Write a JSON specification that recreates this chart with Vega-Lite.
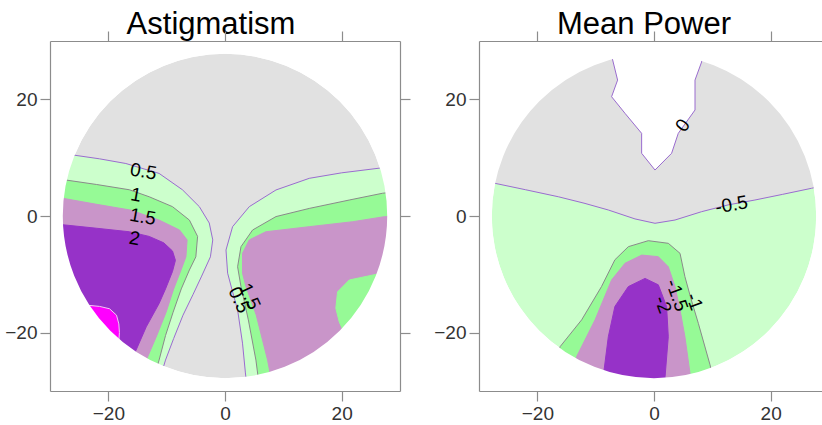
{
  "$schema": "https://vega.github.io/schema/vega-lite/v6.json",
  "padding": {"left": 4, "top": 9, "right": 0, "bottom": 0},
  "spacing": 22,
  "datasets": {
    "ctr": [{"x": 0, "y": 0}],
    "astig": [
      {"g":"a05","p":"L","i":0,"x":-29.5,"y":10.8},{"g":"a05","p":"L","i":1,"x":-26,"y":10.45},{"g":"a05","p":"L","i":2,"x":-21.5,"y":9.8},{"g":"a05","p":"L","i":3,"x":-17,"y":9},{"g":"a05","p":"L","i":4,"x":-11.3,"y":7.3},{"g":"a05","p":"L","i":5,"x":-7.3,"y":4.5},{"g":"a05","p":"L","i":6,"x":-4.4,"y":1.6},{"g":"a05","p":"L","i":7,"x":-2.7,"y":-1.2},{"g":"a05","p":"L","i":8,"x":-2.1,"y":-4.1},{"g":"a05","p":"L","i":9,"x":-2.5,"y":-7},{"g":"a05","p":"L","i":10,"x":-4,"y":-10.3},{"g":"a05","p":"L","i":11,"x":-5.5,"y":-13.5},{"g":"a05","p":"L","i":12,"x":-7.2,"y":-17},{"g":"a05","p":"L","i":13,"x":-8.8,"y":-21},{"g":"a05","p":"L","i":14,"x":-10.2,"y":-24.7},{"g":"a05","p":"L","i":15,"x":-11.2,"y":-28},{"g":"a05","p":"L","i":16,"x":-12,"y":-29.5},{"g":"a05","p":"L","i":17,"x":-29.5,"y":-29.5},
      {"g":"a05","p":"R","i":0,"x":29.5,"y":9},{"g":"a05","p":"R","i":1,"x":26.45,"y":8.2},{"g":"a05","p":"R","i":2,"x":20,"y":7.4},{"g":"a05","p":"R","i":3,"x":14.45,"y":6.46},{"g":"a05","p":"R","i":4,"x":8.74,"y":4.46},{"g":"a05","p":"R","i":5,"x":4.16,"y":1.6},{"g":"a05","p":"R","i":6,"x":1.3,"y":-1.83},{"g":"a05","p":"R","i":7,"x":0.17,"y":-5.83},{"g":"a05","p":"R","i":8,"x":0.45,"y":-9.8},{"g":"a05","p":"R","i":9,"x":1.3,"y":-13},{"g":"a05","p":"R","i":10,"x":2.16,"y":-16.1},{"g":"a05","p":"R","i":11,"x":3,"y":-21.8},{"g":"a05","p":"R","i":12,"x":3.5,"y":-26.9},{"g":"a05","p":"R","i":13,"x":3.8,"y":-29.5},{"g":"a05","p":"R","i":14,"x":29.5,"y":-29.5},
      {"g":"a1","p":"L","i":0,"x":-29.5,"y":6.4},{"g":"a1","p":"L","i":1,"x":-27.5,"y":6.2},{"g":"a1","p":"L","i":2,"x":-22,"y":5.4},{"g":"a1","p":"L","i":3,"x":-16.4,"y":4.5},{"g":"a1","p":"L","i":4,"x":-13,"y":3.3},{"g":"a1","p":"L","i":5,"x":-9,"y":1.6},{"g":"a1","p":"L","i":6,"x":-6.1,"y":-0.7},{"g":"a1","p":"L","i":7,"x":-4.7,"y":-3.5},{"g":"a1","p":"L","i":8,"x":-5,"y":-7},{"g":"a1","p":"L","i":9,"x":-6.1,"y":-9.25},{"g":"a1","p":"L","i":10,"x":-7.5,"y":-12.5},{"g":"a1","p":"L","i":11,"x":-8.9,"y":-16.5},{"g":"a1","p":"L","i":12,"x":-10.2,"y":-20.5},{"g":"a1","p":"L","i":13,"x":-11.3,"y":-24.7},{"g":"a1","p":"L","i":14,"x":-12.3,"y":-28},{"g":"a1","p":"L","i":15,"x":-13,"y":-29.5},{"g":"a1","p":"L","i":16,"x":-29.5,"y":-29.5},
      {"g":"a1","p":"R","i":0,"x":29.5,"y":4.2},{"g":"a1","p":"R","i":1,"x":27,"y":3.9},{"g":"a1","p":"R","i":2,"x":21.3,"y":2.74},{"g":"a1","p":"R","i":3,"x":14.45,"y":1.3},{"g":"a1","p":"R","i":4,"x":8.74,"y":-0.1},{"g":"a1","p":"R","i":5,"x":4.73,"y":-2.4},{"g":"a1","p":"R","i":6,"x":2.74,"y":-5.26},{"g":"a1","p":"R","i":7,"x":2.16,"y":-8.7},{"g":"a1","p":"R","i":8,"x":2.74,"y":-12.1},{"g":"a1","p":"R","i":9,"x":4,"y":-17.8},{"g":"a1","p":"R","i":10,"x":5.3,"y":-24.7},{"g":"a1","p":"R","i":11,"x":5.7,"y":-27.8},{"g":"a1","p":"R","i":12,"x":6,"y":-29.5},{"g":"a1","p":"R","i":13,"x":29.5,"y":-29.5},
      {"g":"a15","p":"L","i":0,"x":-29.5,"y":3.1},{"g":"a15","p":"L","i":1,"x":-27.6,"y":3},{"g":"a15","p":"L","i":2,"x":-22,"y":2},{"g":"a15","p":"L","i":3,"x":-16.1,"y":1},{"g":"a15","p":"L","i":4,"x":-11.3,"y":-0.7},{"g":"a15","p":"L","i":5,"x":-7.8,"y":-2.4},{"g":"a15","p":"L","i":6,"x":-6.5,"y":-4.1},{"g":"a15","p":"L","i":7,"x":-6.7,"y":-7},{"g":"a15","p":"L","i":8,"x":-7.54,"y":-9.25},{"g":"a15","p":"L","i":9,"x":-8.8,"y":-12.5},{"g":"a15","p":"L","i":10,"x":-10.1,"y":-16.5},{"g":"a15","p":"L","i":11,"x":-11.7,"y":-20.5},{"g":"a15","p":"L","i":12,"x":-13.5,"y":-24.7},{"g":"a15","p":"L","i":13,"x":-14.5,"y":-28},{"g":"a15","p":"L","i":14,"x":-15,"y":-29.5},{"g":"a15","p":"L","i":15,"x":-29.5,"y":-29.5},
      {"g":"a15","p":"R","i":0,"x":29.5,"y":-0.1},{"g":"a15","p":"R","i":1,"x":27.3,"y":-0.12},{"g":"a15","p":"R","i":2,"x":21.9,"y":-0.98},{"g":"a15","p":"R","i":3,"x":14.45,"y":-1.83},{"g":"a15","p":"R","i":4,"x":7,"y":-2.7},{"g":"a15","p":"R","i":5,"x":4.16,"y":-4.1},{"g":"a15","p":"R","i":6,"x":3,"y":-6.4},{"g":"a15","p":"R","i":7,"x":3,"y":-9.8},{"g":"a15","p":"R","i":8,"x":3.6,"y":-12.1},{"g":"a15","p":"R","i":9,"x":5.36,"y":-17},{"g":"a15","p":"R","i":10,"x":7.3,"y":-24.7},{"g":"a15","p":"R","i":11,"x":7.9,"y":-27.8},{"g":"a15","p":"R","i":12,"x":8.5,"y":-29.5},{"g":"a15","p":"R","i":13,"x":29.5,"y":-29.5},
      {"g":"aG","p":"R","i":0,"x":29.5,"y":-9.8},{"g":"aG","p":"R","i":1,"x":27,"y":-9.77},{"g":"aG","p":"R","i":2,"x":21.3,"y":-10.97},{"g":"aG","p":"R","i":3,"x":19.3,"y":-13},{"g":"aG","p":"R","i":4,"x":19,"y":-15.8},{"g":"aG","p":"R","i":5,"x":19.6,"y":-18.2},{"g":"aG","p":"R","i":6,"x":20.4,"y":-19.9},{"g":"aG","p":"R","i":7,"x":24,"y":-24},{"g":"aG","p":"R","i":8,"x":29.5,"y":-29.5},
      {"g":"a2","p":"L","i":0,"x":-29.5,"y":-1.5},{"g":"a2","p":"L","i":1,"x":-27.8,"y":-1.5},{"g":"a2","p":"L","i":2,"x":-22,"y":-2.1},{"g":"a2","p":"L","i":3,"x":-16.4,"y":-2.7},{"g":"a2","p":"L","i":4,"x":-13,"y":-3.5},{"g":"a2","p":"L","i":5,"x":-10.5,"y":-4.6},{"g":"a2","p":"L","i":6,"x":-9,"y":-6},{"g":"a2","p":"L","i":7,"x":-8.5,"y":-7.6},{"g":"a2","p":"L","i":8,"x":-9,"y":-9.5},{"g":"a2","p":"L","i":9,"x":-10.2,"y":-12.5},{"g":"a2","p":"L","i":10,"x":-11.3,"y":-15},{"g":"a2","p":"L","i":11,"x":-13.5,"y":-19},{"g":"a2","p":"L","i":12,"x":-15.25,"y":-23},{"g":"a2","p":"L","i":13,"x":-17,"y":-26},{"g":"a2","p":"L","i":14,"x":-18,"y":-29.5},{"g":"a2","p":"L","i":15,"x":-29.5,"y":-29.5},
      {"g":"aM","p":"L","i":0,"x":-29.5,"y":-15.2},{"g":"aM","p":"L","i":1,"x":-25,"y":-15.2},{"g":"aM","p":"L","i":2,"x":-23.5,"y":-15.3},{"g":"aM","p":"L","i":3,"x":-21.5,"y":-15.5},{"g":"aM","p":"L","i":4,"x":-19.8,"y":-15.9},{"g":"aM","p":"L","i":5,"x":-18.6,"y":-17},{"g":"aM","p":"L","i":6,"x":-18.2,"y":-18.5},{"g":"aM","p":"L","i":7,"x":-18.1,"y":-20},{"g":"aM","p":"L","i":8,"x":-18.2,"y":-21.5},{"g":"aM","p":"L","i":9,"x":-18.5,"y":-29.5},{"g":"aM","p":"L","i":10,"x":-29.5,"y":-29.5}
    ],
    "astigLab": [
      {"t":"0.5","x":-14,"y":7.6,"k":"L"},{"t":"1","x":-15.25,"y":3.6,"k":"L"},{"t":"1.5","x":-14.1,"y":-0.17,"k":"L"},{"t":"2","x":-15.5,"y":-3.86,"k":"L"},
      {"t":"1.5","x":4.2,"y":-13.8,"k":"R"},{"t":"0.5","x":2.4,"y":-14.4,"k":"R"}
    ],
    "power": [
      {"g":"pG","p":"A","i":0,"x":-29.5,"y":5.8},{"g":"pG","p":"A","i":1,"x":-27.25,"y":5.6},{"g":"pG","p":"A","i":2,"x":-22,"y":4.5},{"g":"pG","p":"A","i":3,"x":-16.4,"y":3.3},{"g":"pG","p":"A","i":4,"x":-12,"y":2.2},{"g":"pG","p":"A","i":5,"x":-7.83,"y":1.03},{"g":"pG","p":"A","i":6,"x":-3.26,"y":-0.5},{"g":"pG","p":"A","i":7,"x":0.17,"y":-1.25},{"g":"pG","p":"A","i":8,"x":3.6,"y":-0.69},{"g":"pG","p":"A","i":9,"x":8.16,"y":0.74},{"g":"pG","p":"A","i":10,"x":12.7,"y":1.9},{"g":"pG","p":"A","i":11,"x":17.3,"y":2.74},{"g":"pG","p":"A","i":12,"x":22,"y":3.7},{"g":"pG","p":"A","i":13,"x":27,"y":4.75},{"g":"pG","p":"A","i":14,"x":29.5,"y":5.3},{"g":"pG","p":"A","i":15,"x":29.5,"y":29.5},{"g":"pG","p":"A","i":16,"x":-29.5,"y":29.5},
      {"g":"pW","p":"A","i":0,"x":-7.15,"y":29.5},{"g":"pW","p":"A","i":1,"x":-7.15,"y":27},{"g":"pW","p":"A","i":2,"x":-6.24,"y":23.3},{"g":"pW","p":"A","i":3,"x":-7.27,"y":20.45},{"g":"pW","p":"A","i":4,"x":-4.97,"y":17.6},{"g":"pW","p":"A","i":5,"x":-2.12,"y":14.17},{"g":"pW","p":"A","i":6,"x":-2.12,"y":10.75},{"g":"pW","p":"A","i":7,"x":0.17,"y":7.88},{"g":"pW","p":"A","i":8,"x":3.02,"y":10.75},{"g":"pW","p":"A","i":9,"x":4.16,"y":14.17},{"g":"pW","p":"A","i":10,"x":7.03,"y":18.17},{"g":"pW","p":"A","i":11,"x":7.03,"y":23.3},{"g":"pW","p":"A","i":12,"x":8.16,"y":26.4},{"g":"pW","p":"A","i":13,"x":8.5,"y":29.5},
      {"g":"p1","p":"A","i":0,"x":-18,"y":-29.5},{"g":"p1","p":"A","i":1,"x":-16.1,"y":-22.4},{"g":"p1","p":"A","i":2,"x":-12.4,"y":-17.8},{"g":"p1","p":"A","i":3,"x":-9,"y":-12.1},{"g":"p1","p":"A","i":4,"x":-6.7,"y":-7.5},{"g":"p1","p":"A","i":5,"x":-4.4,"y":-5.26},{"g":"p1","p":"A","i":6,"x":-0.98,"y":-4.23},{"g":"p1","p":"A","i":7,"x":2.45,"y":-4.68},{"g":"p1","p":"A","i":8,"x":4.46,"y":-6.4},{"g":"p1","p":"A","i":9,"x":5.3,"y":-10.4},{"g":"p1","p":"A","i":10,"x":6.4,"y":-14.4},{"g":"p1","p":"A","i":11,"x":7.6,"y":-18.4},{"g":"p1","p":"A","i":12,"x":9.6,"y":-25.5},{"g":"p1","p":"A","i":13,"x":10.5,"y":-29.5},
      {"g":"p15","p":"A","i":0,"x":-15,"y":-29.5},{"g":"p15","p":"A","i":1,"x":-13.26,"y":-24.1},{"g":"p15","p":"A","i":2,"x":-10.1,"y":-17.8},{"g":"p15","p":"A","i":3,"x":-7.27,"y":-10.97},{"g":"p15","p":"A","i":4,"x":-4.97,"y":-8.1},{"g":"p15","p":"A","i":5,"x":-2.1,"y":-6.7},{"g":"p15","p":"A","i":6,"x":0.74,"y":-6.97},{"g":"p15","p":"A","i":7,"x":2.45,"y":-8.7},{"g":"p15","p":"A","i":8,"x":3.6,"y":-12.1},{"g":"p15","p":"A","i":9,"x":4.46,"y":-16.1},{"g":"p15","p":"A","i":10,"x":5.3,"y":-20.7},{"g":"p15","p":"A","i":11,"x":6.17,"y":-26.96},{"g":"p15","p":"A","i":12,"x":6.5,"y":-29.5},
      {"g":"p2","p":"A","i":0,"x":-9,"y":-29.5},{"g":"p2","p":"A","i":1,"x":-8.7,"y":-27.5},{"g":"p2","p":"A","i":2,"x":-7.83,"y":-20.7},{"g":"p2","p":"A","i":3,"x":-6.7,"y":-15.5},{"g":"p2","p":"A","i":4,"x":-4.4,"y":-12.1},{"g":"p2","p":"A","i":5,"x":-1.54,"y":-10.7},{"g":"p2","p":"A","i":6,"x":0.74,"y":-11.8},{"g":"p2","p":"A","i":7,"x":2.16,"y":-15.5},{"g":"p2","p":"A","i":8,"x":2.45,"y":-20.7},{"g":"p2","p":"A","i":9,"x":1.9,"y":-27.5},{"g":"p2","p":"A","i":10,"x":1.8,"y":-29.5}
    ],
    "powerLab": [
      {"t":"0","x":4.94,"y":15.5,"k":"a"},{"t":"-0.5","x":13.3,"y":1.9,"k":"b"},
      {"t":"-1","x":6.9,"y":-14.7,"k":"c"},{"t":"-1.5","x":3.9,"y":-13.6,"k":"c"},{"t":"-2","x":1.5,"y":-15.2,"k":"c"}
    ]
  },
  "hconcat": [
    {
      "title": {"text": "Astigmatism", "dx": -14},
      "width": 350, "height": 350,
      "encoding": {
        "x": {"field": "x", "type": "quantitative", "scale": {"domain": [-30, 30], "nice": false, "zero": false}, "axis": null},
        "y": {"field": "y", "type": "quantitative", "scale": {"domain": [-30, 30], "nice": false, "zero": false}, "axis": null}
      },
      "resolve": {"axis": {"x": "independent", "y": "independent"}},
      "layer": [
        {"data": {"name": "ctr"}, "mark": {"type": "point", "shape": "circle", "filled": true, "fill": "#e1e1e1", "stroke": null, "opacity": 1, "size": 105235, "clip": true},
         "encoding": {
           "x": {"field": "x", "type": "quantitative", "scale": {"domain": [-30, 30], "nice": false, "zero": false}, "axis": {"orient": "bottom", "values": [-20, 0, 20], "title": null, "zindex": 2}},
           "y": {"field": "y", "type": "quantitative", "scale": {"domain": [-30, 30], "nice": false, "zero": false}, "axis": {"orient": "left", "values": [-20, 0, 20], "title": null, "zindex": 2}}
         }},
        {"data": {"name": "astig"}, "transform": [{"filter": "datum.g === 'a05'"}], "mark": {"type": "line", "fill": "#ccffcc", "stroke": "#9a6ccf", "strokeWidth": 1, "clip": true},
         "encoding": {"order": {"field": "i", "type": "quantitative"}, "detail": {"field": "p", "type": "nominal"}}},
        {"data": {"name": "astig"}, "transform": [{"filter": "datum.g === 'a1'"}], "mark": {"type": "line", "fill": "#96fa96", "stroke": "#8a8a8a", "strokeWidth": 1, "clip": true},
         "encoding": {"order": {"field": "i", "type": "quantitative"}, "detail": {"field": "p", "type": "nominal"}}},
        {"data": {"name": "astig"}, "transform": [{"filter": "datum.g === 'a15'"}], "mark": {"type": "line", "fill": "#c995c9", "stroke": "#c995c9", "strokeWidth": 1, "clip": true},
         "encoding": {"order": {"field": "i", "type": "quantitative"}, "detail": {"field": "p", "type": "nominal"}}},
        {"data": {"name": "astig"}, "transform": [{"filter": "datum.g === 'aG'"}], "mark": {"type": "line", "fill": "#96fa96", "stroke": "#96fa96", "strokeWidth": 1, "clip": true},
         "encoding": {"order": {"field": "i", "type": "quantitative"}, "detail": {"field": "p", "type": "nominal"}}},
        {"data": {"name": "astig"}, "transform": [{"filter": "datum.g === 'a2'"}], "mark": {"type": "line", "fill": "#9632c8", "stroke": "#9632c8", "strokeWidth": 1, "clip": true},
         "encoding": {"order": {"field": "i", "type": "quantitative"}, "detail": {"field": "p", "type": "nominal"}}},
        {"data": {"name": "astig"}, "transform": [{"filter": "datum.g === 'aM'"}], "mark": {"type": "line", "fill": "#ff00ff", "stroke": "#f5c8f5", "strokeWidth": 1, "clip": true},
         "encoding": {"order": {"field": "i", "type": "quantitative"}, "detail": {"field": "p", "type": "nominal"}}},
        {"data": {"name": "ctr"}, "mark": {"type": "point", "shape": "circle", "filled": false, "stroke": "#ffffff", "strokeWidth": 200, "opacity": 1, "size": 274995, "clip": true},
         "encoding": {
           "x": {"field": "x", "type": "quantitative", "scale": {"domain": [-30, 30], "nice": false, "zero": false}, "axis": {"orient": "top", "values": [-20, 0, 20], "labels": false, "title": null, "zindex": 2}},
           "y": {"field": "y", "type": "quantitative", "scale": {"domain": [-30, 30], "nice": false, "zero": false}, "axis": {"orient": "right", "values": [-20, 0, 20], "labels": false, "title": null, "zindex": 2}}
         }},
        {"data": {"name": "astigLab"}, "transform": [{"filter": "datum.k === 'L'"}], "mark": {"type": "text", "fontSize": 19, "angle": 10, "color": "#000000"},
         "encoding": {"text": {"field": "t", "type": "nominal"}}},
        {"data": {"name": "astigLab"}, "transform": [{"filter": "datum.k === 'R'"}], "mark": {"type": "text", "fontSize": 19, "angle": 65, "color": "#000000"},
         "encoding": {"text": {"field": "t", "type": "nominal"}}}
      ]
    },
    {
      "title": {"text": "Mean Power", "dx": -10},
      "width": 350, "height": 350,
      "encoding": {
        "x": {"field": "x", "type": "quantitative", "scale": {"domain": [-30, 30], "nice": false, "zero": false}, "axis": null},
        "y": {"field": "y", "type": "quantitative", "scale": {"domain": [-30, 30], "nice": false, "zero": false}, "axis": null}
      },
      "resolve": {"axis": {"x": "independent", "y": "independent"}},
      "layer": [
        {"data": {"name": "ctr"}, "mark": {"type": "point", "shape": "circle", "filled": true, "fill": "#ccffcc", "stroke": null, "opacity": 1, "size": 105235, "clip": true},
         "encoding": {
           "x": {"field": "x", "type": "quantitative", "scale": {"domain": [-30, 30], "nice": false, "zero": false}, "axis": {"orient": "bottom", "values": [-20, 0, 20], "title": null, "zindex": 2}},
           "y": {"field": "y", "type": "quantitative", "scale": {"domain": [-30, 30], "nice": false, "zero": false}, "axis": {"orient": "left", "values": [-20, 0, 20], "title": null, "zindex": 2}}
         }},
        {"data": {"name": "power"}, "transform": [{"filter": "datum.g === 'pG'"}], "mark": {"type": "line", "fill": "#e1e1e1", "stroke": "#9a6ccf", "strokeWidth": 1, "clip": true},
         "encoding": {"order": {"field": "i", "type": "quantitative"}, "detail": {"field": "p", "type": "nominal"}}},
        {"data": {"name": "power"}, "transform": [{"filter": "datum.g === 'pW'"}], "mark": {"type": "line", "fill": "#ffffff", "stroke": "#9a6ccf", "strokeWidth": 1, "clip": true},
         "encoding": {"order": {"field": "i", "type": "quantitative"}, "detail": {"field": "p", "type": "nominal"}}},
        {"data": {"name": "power"}, "transform": [{"filter": "datum.g === 'p1'"}], "mark": {"type": "line", "fill": "#96fa96", "stroke": "#8a8a8a", "strokeWidth": 1, "clip": true},
         "encoding": {"order": {"field": "i", "type": "quantitative"}, "detail": {"field": "p", "type": "nominal"}}},
        {"data": {"name": "power"}, "transform": [{"filter": "datum.g === 'p15'"}], "mark": {"type": "line", "fill": "#c995c9", "stroke": "#c995c9", "strokeWidth": 1, "clip": true},
         "encoding": {"order": {"field": "i", "type": "quantitative"}, "detail": {"field": "p", "type": "nominal"}}},
        {"data": {"name": "power"}, "transform": [{"filter": "datum.g === 'p2'"}], "mark": {"type": "line", "fill": "#9632c8", "stroke": "#9632c8", "strokeWidth": 1, "clip": true},
         "encoding": {"order": {"field": "i", "type": "quantitative"}, "detail": {"field": "p", "type": "nominal"}}},
        {"data": {"name": "ctr"}, "mark": {"type": "point", "shape": "circle", "filled": false, "stroke": "#ffffff", "strokeWidth": 200, "opacity": 1, "size": 274995, "clip": true},
         "encoding": {
           "x": {"field": "x", "type": "quantitative", "scale": {"domain": [-30, 30], "nice": false, "zero": false}, "axis": {"orient": "top", "values": [-20, 0, 20], "labels": false, "title": null, "zindex": 2}},
           "y": {"field": "y", "type": "quantitative", "scale": {"domain": [-30, 30], "nice": false, "zero": false}, "axis": {"orient": "right", "values": [-20, 0, 20], "labels": false, "title": null, "zindex": 2}}
         }},
        {"data": {"name": "powerLab"}, "transform": [{"filter": "datum.k === 'a'"}], "mark": {"type": "text", "fontSize": 19, "angle": -55, "color": "#000000"},
         "encoding": {"text": {"field": "t", "type": "nominal"}}},
        {"data": {"name": "powerLab"}, "transform": [{"filter": "datum.k === 'b'"}], "mark": {"type": "text", "fontSize": 19, "angle": -10, "color": "#000000"},
         "encoding": {"text": {"field": "t", "type": "nominal"}}},
        {"data": {"name": "powerLab"}, "transform": [{"filter": "datum.k === 'c'"}], "mark": {"type": "text", "fontSize": 19, "angle": 70, "color": "#000000"},
         "encoding": {"text": {"field": "t", "type": "nominal"}}}
      ]
    }
  ],
  "config": {
    "font": "Liberation Sans",
    "view": {"stroke": null},
    "axis": {"domainColor": "#8c8c8c", "tickColor": "#8c8c8c", "labelColor": "#333333", "labelFontSize": 19, "labelFont": "Liberation Sans", "tickSize": 10, "labelPadding": 3, "grid": false, "zindex": 2, "domainWidth": 1.2, "tickWidth": 1.2},
    "title": {"fontSize": 31, "fontWeight": "normal", "color": "#000000", "font": "Liberation Sans", "offset": -11}
  }
}
